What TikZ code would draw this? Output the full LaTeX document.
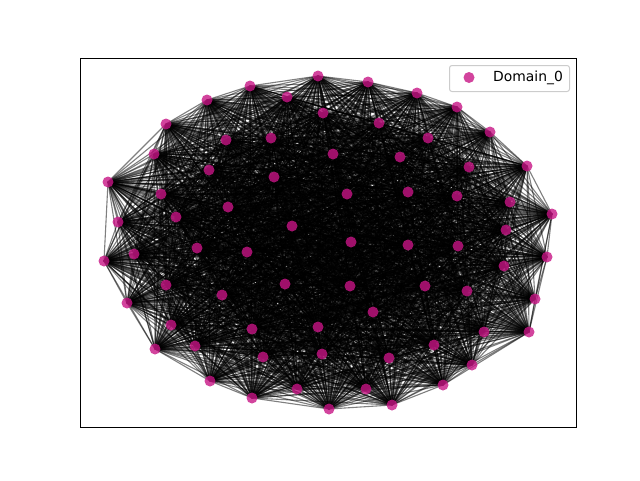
\documentclass[tikz,border=0pt]{standalone}
\usepackage{fontspec}
\setmainfont{DejaVu Sans}
\pgfdeclarelayer{bg}
\pgfsetlayers{bg,main}
\definecolor{mvr}{RGB}{199,21,133}
\tikzset{
  dot/.style={circle,fill=mvr,fill opacity=0.8,draw=none,minimum size=11pt,inner sep=0pt},
  edge/.style={black,opacity=0.5,line width=1.1pt},
  frame/.style={draw=black,line width=1.1pt},
  legbox/.style={draw=black!20,rounded corners=2.5pt,line width=1pt,fill=white,fill opacity=0.8}
}
\begin{document}
\begin{tikzpicture}[x=1pt,y=-1pt]
\useasboundingbox (0,0) rectangle (640,480);
\foreach \px/\py [count=\i] in {318/76,368/82,417/93,457/107,490/132,527/166,552/214,547/257,535/299,529/332,472/365,443/385,392/405,329/409,297/389,252/398,210/381,155/349,127/303,104/261,118/222,108/182,154/154,166/124,207/100,250/86,287/97,323/113,379/123,428/138,469/167,510/202,506/230,504/266,484/332,434/345,366/389,389/358,322/354,263/357,195/346,171/325,134/254,161/194,176/217,209/170,226/140,271/138,333/154,400/157,457/196,408/192,347/194,274/177,228/207,292/226,197/248,247/252,166/285,222/295,285/284,252/329,318/327,350/286,373/312,425/286,467/291,458/246,408/245,351/242}
  \node[dot] (n\i) at (\px,\py) {};
\begin{pgfonlayer}{bg}
\foreach \i in {1,...,69} {
  \pgfmathtruncatemacro\s{\i+1}
  \foreach \j in {\s,...,70}
    \draw[edge] (n\i.center) -- (n\j.center);
}
\end{pgfonlayer}
\node[frame,minimum width=496pt,minimum height=369pt,inner sep=0pt,anchor=north west] (axes) at (80,58) {};
\node[legbox,minimum width=120pt,minimum height=26pt,inner sep=0pt,anchor=north west] (leg) at (449,65) {};
\node[dot] (legdot) at (469,77.5) {};
\node[anchor=west,inner sep=0pt,font=\fontsize{13.9pt}{16pt}\selectfont] (legtxt) at (493,77.5) {Domain\_0};
\end{tikzpicture}
\end{document}
